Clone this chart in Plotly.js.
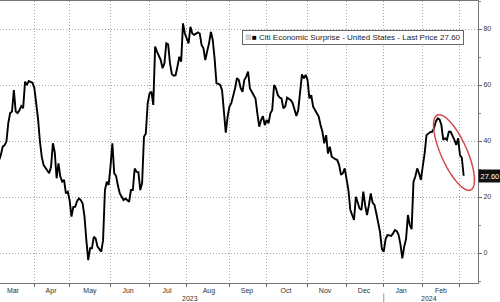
<!DOCTYPE html>
<html>
<head>
<meta charset="utf-8">
<script src="https://cdn.plot.ly/plotly-3.0.1.min.js"></script>
<style>html,body{margin:0;padding:0;background:#fff;}#chart{width:500px;height:302px;}</style>
</head>
<body>
<div id="chart"></div>
<script>
// Citi Economic Surprise Index - United States (daily, trading days)
const dates = [
"2023-03-07","2023-03-08","2023-03-09","2023-03-10","2023-03-13","2023-03-14","2023-03-15","2023-03-16","2023-03-17",
"2023-03-20","2023-03-21","2023-03-22","2023-03-23","2023-03-24","2023-03-27","2023-03-28","2023-03-29","2023-03-30","2023-03-31",
"2023-04-03","2023-04-04","2023-04-05","2023-04-06","2023-04-10","2023-04-11","2023-04-12","2023-04-13","2023-04-14",
"2023-04-17","2023-04-18","2023-04-19","2023-04-20","2023-04-21","2023-04-24","2023-04-25","2023-04-26","2023-04-27","2023-04-28",
"2023-05-01","2023-05-02","2023-05-03","2023-05-04","2023-05-05","2023-05-08","2023-05-09","2023-05-10","2023-05-11","2023-05-12",
"2023-05-15","2023-05-16","2023-05-17","2023-05-18","2023-05-19","2023-05-22","2023-05-23","2023-05-24","2023-05-25","2023-05-26",
"2023-05-30","2023-05-31","2023-06-01","2023-06-02","2023-06-05","2023-06-06","2023-06-07","2023-06-08","2023-06-09",
"2023-06-12","2023-06-13","2023-06-14","2023-06-15","2023-06-16","2023-06-20","2023-06-21","2023-06-22","2023-06-23",
"2023-06-26","2023-06-27","2023-06-28","2023-06-29","2023-06-30","2023-07-03","2023-07-05","2023-07-06","2023-07-07",
"2023-07-10","2023-07-11","2023-07-12","2023-07-13","2023-07-14","2023-07-17","2023-07-18","2023-07-19","2023-07-20","2023-07-21",
"2023-07-24","2023-07-25","2023-07-26","2023-07-27","2023-07-28","2023-07-31","2023-08-01","2023-08-02","2023-08-03","2023-08-04",
"2023-08-07","2023-08-08","2023-08-09","2023-08-10","2023-08-11","2023-08-14","2023-08-15","2023-08-16","2023-08-17","2023-08-18",
"2023-08-21","2023-08-22","2023-08-23","2023-08-24","2023-08-25","2023-08-28","2023-08-29","2023-08-30","2023-08-31","2023-09-01",
"2023-09-05","2023-09-06","2023-09-07","2023-09-08","2023-09-11","2023-09-12","2023-09-13","2023-09-14","2023-09-15",
"2023-09-18","2023-09-19","2023-09-20","2023-09-21","2023-09-22","2023-09-25","2023-09-26","2023-09-27","2023-09-28","2023-09-29",
"2023-10-02","2023-10-03","2023-10-04","2023-10-05","2023-10-06","2023-10-09","2023-10-10","2023-10-11","2023-10-12","2023-10-13",
"2023-10-16","2023-10-17","2023-10-18","2023-10-19","2023-10-20","2023-10-23","2023-10-24","2023-10-25","2023-10-26","2023-10-27",
"2023-10-30","2023-10-31","2023-11-01","2023-11-02","2023-11-03","2023-11-06","2023-11-07","2023-11-08","2023-11-09","2023-11-10",
"2023-11-13","2023-11-14","2023-11-15","2023-11-16","2023-11-17","2023-11-20","2023-11-21","2023-11-22","2023-11-24",
"2023-11-27","2023-11-28","2023-11-29","2023-11-30","2023-12-01","2023-12-04","2023-12-05","2023-12-06","2023-12-07","2023-12-08",
"2023-12-11","2023-12-12","2023-12-13","2023-12-14","2023-12-15","2023-12-18","2023-12-19","2023-12-20","2023-12-21","2023-12-22",
"2023-12-26","2023-12-27","2023-12-28","2023-12-29","2024-01-02","2024-01-03","2024-01-04","2024-01-05",
"2024-01-08","2024-01-09","2024-01-10","2024-01-11","2024-01-12","2024-01-16","2024-01-17","2024-01-18","2024-01-19",
"2024-01-22","2024-01-23","2024-01-24","2024-01-25","2024-01-26","2024-01-29","2024-01-30","2024-01-31","2024-02-01","2024-02-02",
"2024-02-05","2024-02-06","2024-02-07","2024-02-08","2024-02-09","2024-02-12","2024-02-13","2024-02-14","2024-02-15","2024-02-16",
"2024-02-20","2024-02-21","2024-02-22","2024-02-23","2024-02-26","2024-02-27","2024-02-28","2024-02-29","2024-03-01",
"2024-03-04","2024-03-05"
];
const values = [
33,35,38,38.5,39.8,46.4,50,50.5,58.2,
50.5,50,51,52.5,51.7,61.2,60,61.4,61.2,60.8,
59,54,48,40,34.4,31.4,30.2,29.5,28.5,
30.8,39.2,36,26.7,32,27.3,25.5,26.1,21.3,21.9,
18.9,13,16.5,16.5,18.5,19.5,18.9,17.7,13,4.6,
-2.5,1.7,1.7,5.8,5.2,2.3,1.2,0.5,4.6,22.5,
25.5,24.3,31,39.2,28.5,27.5,24,21.3,20.1,
18.9,19.5,18.9,18.3,22.5,22.5,30.2,29,28.9,
22.5,24.9,41.5,42.7,53.5,57,57.6,52.9,73.7,
71.9,70.7,69,66,67.7,74.9,74.5,67.7,63.9,63.3,
63.5,66.5,70.1,68.3,82,78.4,76.5,74.9,80.8,78.4,
77.9,78.5,78.8,78.4,74.3,73.1,68.9,72,74.9,79,
76.1,69.5,60.6,60.4,60,58.2,49.9,43,48.7,52.3,
53.5,56,58.8,62.4,61.8,59,57.6,61.8,63,
64.8,58.8,57.6,56.4,55.2,49.9,45.1,47.5,48.9,45.7,
47.5,46.3,49.9,51.1,60,58.8,56.4,55.5,55.2,51.7,
52.3,55.5,55,54.6,53.5,51.1,48.9,51.1,57.6,63.8,
62.4,63.6,61.8,55.2,56.4,52.3,51.1,49.9,48.7,45.7,
43.3,39.2,42.1,35.5,38,34.4,33.8,33.5,33.2,
31.4,27.9,28.5,30.2,26,22.5,15.4,13.6,11.8,20.1,
17.7,15.9,15.4,21.9,17.1,13.6,17,21.3,18,17.2,
14.2,11.2,7.5,1.5,0.5,5,6.4,6.3,
6.1,7,8.2,7.8,6.4,3,-1.9,2.3,5,
13.6,10,8.5,25.5,27.3,30.2,28.5,26.1,31,35.6,
42.1,42.8,43.2,43.3,44.5,46.9,48.1,47.7,45.7,40.4,
41,40.4,43.3,43.3,42.1,40.4,38.6,41,35,
34,27.6
];
const holidays = ["2023-04-07","2023-05-29","2023-06-19","2023-07-04","2023-09-04","2023-11-23","2023-12-25","2024-01-01","2024-01-15","2024-02-19"];
// month boundaries (first trading day) -> ticks and grid
const monthStarts = ["2023-04-03","2023-05-01","2023-06-01","2023-07-03","2023-08-01","2023-09-01","2023-10-02","2023-11-01","2023-12-01","2024-01-02","2024-02-01","2024-03-01"];
// month label positions (middle of each month) and texts
const monthLabelPos = ["2023-03-16 12:00","2023-04-17 00:00","2023-05-15 22:00","2023-06-14 10:00","2023-07-17 10:00","2023-08-16 22:00","2023-09-15 10:00","2023-10-16 10:00","2023-11-14 10:00","2023-12-14 10:00","2024-01-16 07:00","2024-02-14 19:00"];
const monthLabels = ["Mar","Apr","May","Jun","Jul","Aug","Sep","Oct","Nov","Dec","Jan","Feb"];
const yearLabels = ["2023","2024"];
const yTicks = [0, 20, 40, 60, 80];
const lastPrice = values[values.length - 1];
const seriesName = "Citi Economic Surprise - United States - Last Price " + lastPrice.toFixed(2);

const xRange = ["2023-03-07 13:00", "2024-03-14 17:00"];
const breaks = [{bounds: ["sat", "mon"]}, {values: holidays}];

// plot area geometry (pixels) used only for decorations
const PW = 478, PH = 282, PTOP = 1;
function ellipsePath(cx, cy, a, b, deg) {
  const th = deg * Math.PI / 180;
  let d = "";
  for (let i = 0; i <= 72; i++) {
    const t = i / 72 * 2 * Math.PI;
    const px = cx + a * Math.cos(t) * Math.cos(th) - b * Math.sin(t) * Math.sin(th);
    const py = cy + a * Math.cos(t) * Math.sin(th) + b * Math.sin(t) * Math.cos(th);
    const xp = px / PW, yp = (PTOP + PH - py) / PH;
    d += (i === 0 ? "M" : "L") + xp.toFixed(5) + "," + yp.toFixed(5);
  }
  return d + "Z";
}

const trace = {
  x: dates, y: values, type: "scatter", mode: "lines",
  line: {color: "#000000", width: 1.9}, hoverinfo: "skip", showlegend: false
};

const FAM = "Liberation Sans, Arial, sans-serif";
const font = {family: FAM, size: 7, color: "#333"};
const GRID = "#a8a8a8", DASH = "1px,2px";

const layout = {
  width: 500, height: 302,
  margin: {l: 0, r: 22, t: 1, b: 19, pad: 0},
  paper_bgcolor: "#ffffff", plot_bgcolor: "#ffffff",
  font: font,
  showlegend: false,
  xaxis: {
    type: "date", range: xRange, rangebreaks: breaks,
    tickmode: "array", tickvals: monthLabelPos, ticktext: monthLabels,
    ticks: "", showgrid: false, tickfont: font, ticklabelstandoff: 1,
    minor: {tickmode: "array", tickvals: monthStarts, ticks: "outside", ticklen: 3, tickcolor: "#666",
            showgrid: true, gridcolor: GRID, griddash: DASH, gridwidth: 1},
    showline: true, linecolor: "#777", linewidth: 1, mirror: true,
    zeroline: false, fixedrange: true
  },
  yaxis: {
    side: "right",
    range: [-10.7, 90],
    tickvals: yTicks,
    ticks: "outside", ticklen: 3, tickcolor: "#666",
    minor: {dtick: 10, tick0: 0, ticks: "outside", ticklen: 2, tickcolor: "#888", showgrid: false},
    showgrid: true, gridcolor: GRID, griddash: DASH, gridwidth: 1,
    showline: true, linecolor: "#777", linewidth: 1,
    zeroline: false, tickfont: font, fixedrange: true
  },
  shapes: [
    {type: "path", xref: "paper", yref: "paper", path: ellipsePath(454, 152.5, 41, 13, 66),
     line: {color: "#d24b4b", width: 1.5}},
    {type: "line", xref: "x", yref: "paper", x0: "2024-01-02", x1: "2024-01-02", y0: -0.037, y1: -0.07,
     line: {color: "#999", width: 1}}
  ],
  annotations: [
    {xref: "paper", yref: "paper", x: 190 / PW, y: (PTOP + PH - 298.5) / PH, text: yearLabels[0], showarrow: false,
     font: font, xanchor: "center", yanchor: "middle", borderpad: 0},
    {xref: "paper", yref: "paper", x: 429 / PW, y: (PTOP + PH - 298.5) / PH, text: yearLabels[1], showarrow: false,
     font: font, xanchor: "center", yanchor: "middle", borderpad: 0},
    {xref: "paper", yref: "paper", x: 242 / PW, y: (PTOP + PH - 30) / PH, xanchor: "left", yanchor: "top",
     text: "<span style='color:#b0b0b0'>⊠</span><span style='color:#000'>■</span> " + seriesName,
     showarrow: false, font: {family: FAM, size: 8, color: "#222"},
     bgcolor: "#ffffff", bordercolor: "#666", borderwidth: 1, borderpad: 2},
    {xref: "paper", yref: "y", x: 1, y: lastPrice, xanchor: "left", yanchor: "middle",
     text: lastPrice.toFixed(2), showarrow: false,
     font: {family: FAM, size: 7.5, color: "#ffffff"},
     bgcolor: "#111111", borderpad: 1.5}
  ]
};

Plotly.newPlot("chart", [trace], layout, {displayModeBar: false, staticPlot: true});
</script>
</body>
</html>
